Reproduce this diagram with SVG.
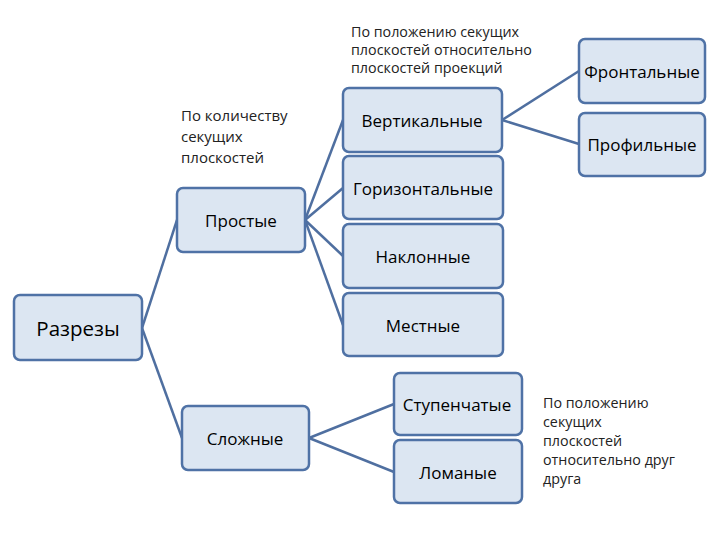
<svg xmlns="http://www.w3.org/2000/svg" width="720" height="540" viewBox="0 0 720 540">
<style>
.box{fill:#dce6f2;stroke:#4f72a6;stroke-width:2.5}
.lbl{font-family:"Open Sans","Liberation Sans",sans-serif;font-size:17px;fill:#000;text-anchor:middle;dominant-baseline:central}
.note{font-family:"Open Sans","Liberation Sans",sans-serif;font-size:14.3px;fill:#222}
.conn line{stroke:#4f6fa0;stroke-width:2.5}
</style>
<rect width="720" height="540" fill="#fff"/>
<g class="conn">
<line x1="142" y1="328" x2="177" y2="220"/>
<line x1="142" y1="328" x2="182" y2="438"/>
<line x1="305" y1="220" x2="343" y2="120"/>
<line x1="305" y1="220" x2="343" y2="188"/>
<line x1="305" y1="220" x2="343" y2="256"/>
<line x1="305" y1="220" x2="343" y2="325"/>
<line x1="502" y1="120" x2="579" y2="71"/>
<line x1="502" y1="120" x2="579" y2="144"/>
<line x1="309" y1="438" x2="394" y2="404"/>
<line x1="309" y1="438" x2="394" y2="472"/>
</g>
<g id="razrezy"><rect class="box" x="14" y="295" width="128" height="65" rx="6"/><text class="lbl" x="78" y="328" style="font-size:20.5px">Разрезы</text></g>
<g id="prostye"><rect class="box" x="177" y="188" width="128" height="64" rx="6"/><text class="lbl" x="241" y="220">Простые</text></g>
<g id="slozhnye"><rect class="box" x="182" y="406" width="127" height="64" rx="6"/><text class="lbl" x="245" y="438">Сложные</text></g>
<g id="vertikalnye"><rect class="box" x="343" y="88" width="159" height="64" rx="6"/><text class="lbl" x="422" y="120">Вертикальные</text></g>
<g id="gorizontalnye"><rect class="box" x="343" y="156" width="160" height="63" rx="6"/><text class="lbl" x="423" y="188">Горизонтальные</text></g>
<g id="naklonnye"><rect class="box" x="343" y="224" width="160" height="64" rx="6"/><text class="lbl" x="423" y="256">Наклонные</text></g>
<g id="mestnye"><rect class="box" x="343" y="293" width="160" height="63" rx="6"/><text class="lbl" x="423" y="325">Местные</text></g>
<g id="frontalnye"><rect class="box" x="579" y="39" width="126" height="64" rx="6"/><text class="lbl" x="642" y="71">Фронтальные</text></g>
<g id="profilnye"><rect class="box" x="579" y="113" width="126" height="63" rx="6"/><text class="lbl" x="642" y="144">Профильные</text></g>
<g id="stupenchatye"><rect class="box" x="394" y="373" width="128" height="62" rx="6"/><text class="lbl" x="457" y="404">Ступенчатые</text></g>
<g id="lomanye"><rect class="box" x="394" y="440" width="128" height="63" rx="6"/><text class="lbl" x="458" y="472">Ломаные</text></g>
<g id="note-top" class="note">
<text x="351" y="37">По положению секущих</text>
<text x="351" y="55">плоскостей относительно</text>
<text x="351" y="73">плоскостей проекций</text>
</g>
<g id="note-left" class="note" style="font-size:15px">
<text x="181" y="121">По количеству</text>
<text x="181" y="142">секущих</text>
<text x="181" y="163">плоскостей</text>
</g>
<g id="note-bottom" class="note" style="font-size:14.3px">
<text x="543" y="408">По положению</text>
<text x="543" y="427">секущих</text>
<text x="543" y="446">плоскостей</text>
<text x="543" y="465">относительно друг</text>
<text x="543" y="484">друга</text>
</g>
</svg>
